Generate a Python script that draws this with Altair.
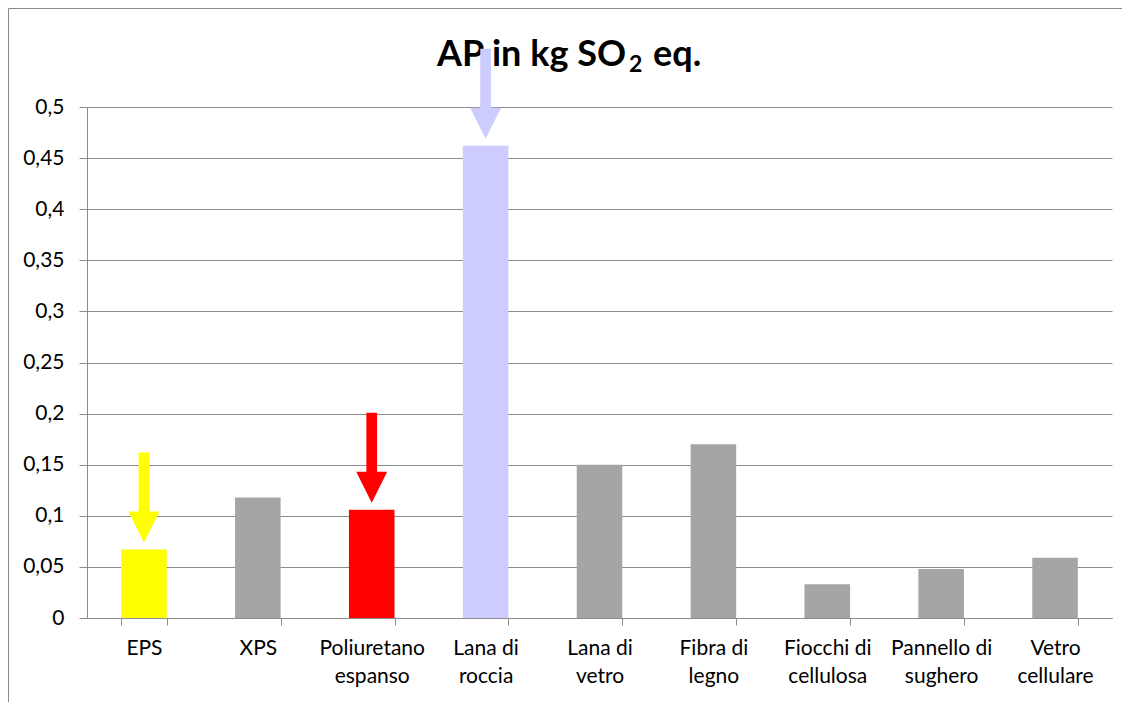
import altair as alt
import pandas as pd

# Acidification potential per insulation material
categories = [
    "EPS",
    "XPS",
    "Poliuretano\nespanso",
    "Lana di\nroccia",
    "Lana di\nvetro",
    "Fibra di\nlegno",
    "Fiocchi di\ncellulosa",
    "Pannello di\nsughero",
    "Vetro\ncellulare",
]
values = [0.067, 0.118, 0.106, 0.462, 0.150, 0.170, 0.033, 0.048, 0.059]
bar_colors = ["#FFFF00", "#A5A5A5", "#FF0000", "#CCCCFF", "#A5A5A5",
              "#A5A5A5", "#A5A5A5", "#A5A5A5", "#A5A5A5"]

# Highlighted materials get a pointing arrow in the bar colour
arrow_categories = ["EPS", "Poliuretano\nespanso", "Lana di\nroccia"]

y_ticks = [0, 0.05, 0.1, 0.15, 0.2, 0.25, 0.3, 0.35, 0.4, 0.45, 0.5]
title_main = "AP in kg SO"
title_sub = "2"
title_tail = "eq."

bars_df = pd.DataFrame({"cat": categories, "value": values, "color": bar_colors})
arrows_df = bars_df[bars_df["cat"].isin(arrow_categories)]

FONT = "Lato"
GRID = "#8C8C8C"
FRAME = "#8A8A8A"
W, H = 1025, 511
PAD = {"left": 87, "top": 107, "right": 10, "bottom": 84}

x_enc = alt.X(
    "cat:N",
    sort=categories,
    scale=alt.Scale(paddingInner=0.6, paddingOuter=0.3),
    axis=alt.Axis(
        title=None,
        labelAngle=0,
        labelExpr="split(datum.label, '\\n')",
        labelFont=FONT,
        labelFontSize=21,
        labelLineHeight=28,
        labelColor="#000000",
        labelPadding=12,
        tickBand="extent",
        tickSize=7,
        tickColor=GRID,
        domainColor=GRID,
        grid=False,
    ),
)
y_enc = alt.Y(
    "value:Q",
    scale=alt.Scale(domain=[0, 0.5], nice=False),
    axis=alt.Axis(
        title=None,
        values=y_ticks,
        labelExpr="replace(format(datum.value, '.2~f'), '.', ',')",
        labelFont=FONT,
        labelFontSize=21,
        labelColor="#000000",
        labelPadding=15,
        tickSize=8,
        tickColor=GRID,
        domainColor=GRID,
        gridColor=GRID,
    ),
)

# Outer frame of the chart area: left and top edges
frame_df = pd.DataFrame({"f": [0]})
frame_left = alt.Chart(frame_df).mark_rule(color=FRAME, strokeWidth=1).encode(
    x=alt.value(-78.5), y=alt.value(-98.5), y2=alt.value(H + PAD["bottom"])
)
frame_top = alt.Chart(frame_df).mark_rule(color=FRAME, strokeWidth=1).encode(
    x=alt.value(-78.5), x2=alt.value(W + PAD["right"]), y=alt.value(-98.5)
)

bars = alt.Chart(bars_df).mark_bar().encode(
    x=x_enc, y=y_enc, color=alt.Color("color:N", scale=None)
)

def title_piece(text, x, y, size, align):
    return alt.Chart(pd.DataFrame({"t": [text]})).mark_text(
        font=FONT, fontWeight="bold", fontSize=size, align=align,
        baseline="alphabetic", color="#000000",
    ).encode(text="t:N", x=alt.value(x), y=alt.value(y))

title_layers = [
    title_piece(title_main, 539, -41.5, 36, "right"),
    title_piece(title_sub, 542, -35, 23, "left"),
    title_piece(title_tail, 566, -41.5, 36, "left"),
]

arrow_path = ("M-0.119,-1L0.119,-1L0.119,0.311L0.344,0.311L0,1"
              "L-0.344,0.311L-0.119,0.311Z")
arrows = alt.Chart(arrows_df).mark_point(
    shape=arrow_path, size=8100, filled=True, opacity=1, strokeWidth=0,
    yOffset=-52,
).encode(
    x=alt.X("cat:N", sort=categories),
    y="value:Q",
    fill=alt.Color("color:N", scale=None),
)

chart = alt.layer(frame_left, frame_top, bars, *title_layers, arrows).properties(
    width=W,
    height=H,
    autosize=alt.AutoSizeParams(type="none"),
    padding=PAD,
    background="white",
).configure_view(stroke=None)

chart.save("out.html", embed_options={"renderer": "svg", "actions": False})
